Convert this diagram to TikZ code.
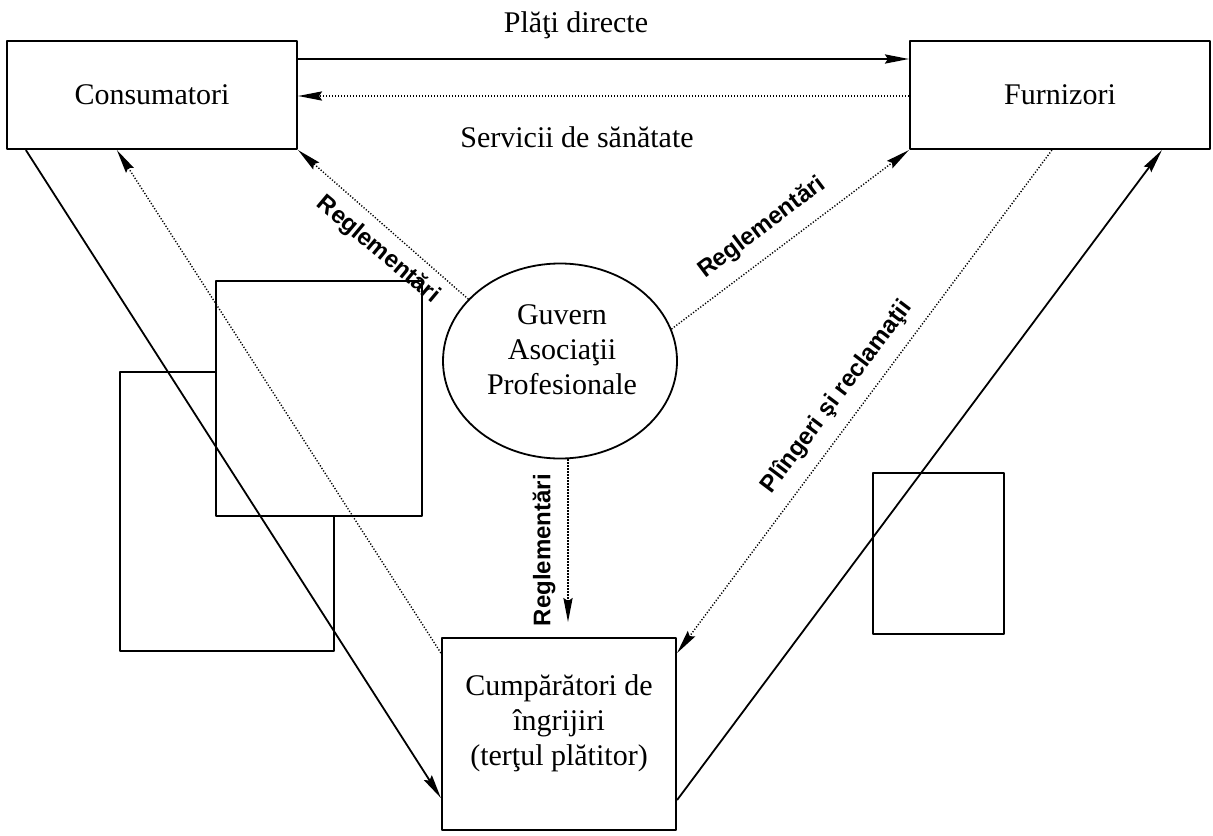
\documentclass[tikz,border=0pt]{standalone}
\usepackage{fontspec}
\setmainfont{Liberation Serif}
\newfontfamily\lsans{Liberation Sans}
\usetikzlibrary{arrows.meta,calc,shapes.geometric}
\begin{document}
\begin{tikzpicture}[x=0.5pt,y=-0.5pt,>={Stealth[length=12pt,width=4.6pt,inset=1.5pt]},line join=round,
	box/.style={draw,line width=1.1pt,inner sep=0pt},
	txt/.style={font=\fontsize{15}{17.5}\selectfont,align=center,inner sep=0pt},
	lab/.style={font=\lsans\bfseries\fontsize{12}{14}\selectfont,inner sep=0pt},
	flux/.style={->,line width=0.9pt},
	reg/.style={->,line width=0.7pt,dash pattern=on 0.6pt off 0.9pt}]
	\useasboundingbox (0,0) rectangle (1213,835);
	\draw[line width=1.1pt] (120,372) rectangle (334,651);
	\draw[line width=1.1pt,fill=white] (216,281) rectangle (422,516);
	\draw[line width=1.1pt] (873,473) rectangle (1004,634);
	\node[box,txt,minimum width=145pt,minimum height=54pt] (cons) at (152,95) {Consumatori};
	\node[box,txt,minimum width=150pt,minimum height=54pt] (furn) at (1060,95) {Furnizori};
	\node[box,minimum width=117pt,minimum height=96pt] (cump) at (559,734) {};
	\node[txt] (cumptxt) at (559,723) {Cumpărători de\\îngrijiri\\(terţul plătitor)};
	\node[draw,ellipse,line width=0.9pt,inner sep=0pt,minimum width=117pt,minimum height=97.5pt] (guv) at (560,361) {};
	\node[txt] (guvtxt) at (562,350) {Guvern\\Asociaţii\\Profesionale};
	\coordinate (regtip) at (568,622);
	\draw[flux] ($(cons.east)+(0,-36)$) -- ($(furn.west)+(0,-36)$);
	\draw[reg] ($(furn.west)+(0,1)$) -- ($(cons.east)+(0,1)$);
	\draw[flux] ($(cons.south west)+(20,0)$) -- ($(cump.west)+(0,64)$);
	\draw[reg] ($(cump.west)+(0,-81)$) -- ($(cons.south west)+(111,0)$);
	\draw[flux] ($(cump.east)+(0,66)$) -- ($(furn.south west)+(253,0)$);
	\draw[reg] ($(furn.south west)+(143,0)$) -- ($(cump.east)+(0,-81)$);
	\draw[reg] (guv.146) -- (cons.south east);
	\draw[reg] (guv.16) -- (furn.south west);
	\draw[reg] ($(guv.south)+(8,0)$) -- (regtip);
	\node[txt] (plati) at (576,25) {Plăţi directe};
	\node[txt] (serv) at (577,137) {Servicii de sănătate};
	\node[lab,rotate=-40] (reg1) at (378,250) {Reglementări};
	\node[lab,rotate=37] (reg2) at (762,228) {Reglementări};
	\node[lab,rotate=90] (reg3) at (544,550) {Reglementări};
	\node[lab,rotate=53] (plin) at (837,397) {Plîngeri şi reclamaţii};
\end{tikzpicture}
\end{document}
